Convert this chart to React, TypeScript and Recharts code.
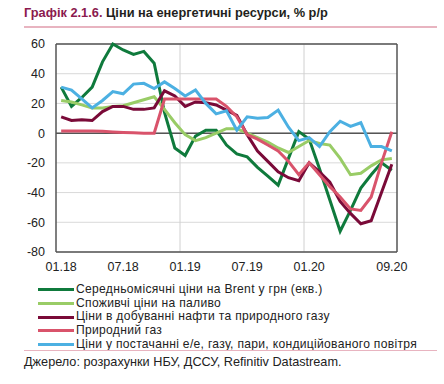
import React from 'react';
import { LineChart, Line, XAxis, YAxis, CartesianGrid, ReferenceLine } from 'recharts';

const months = ["01.18","02.18","03.18","04.18","05.18","06.18","07.18","08.18","09.18","10.18","11.18","12.18","01.19","02.19","03.19","04.19","05.19","06.19","07.19","08.19","09.19","10.19","11.19","12.19","01.20","02.20","03.20","04.20","05.20","06.20","07.20","08.20","09.20"];
const xTickLabels = ["01.18", "07.18", "01.19", "07.19", "01.20", "09.20"];
const yTicks = [-80, -60, -40, -20, 0, 20, 40, 60];

const brent = [31,18,24,31,48,60,56,53,55,47,14,-10,-15,-2,2,2,-8,-14,-16,-23,-29,-35,-17,1,-4,-24,-45,-66,-52,-37,-28,-20,-25];
const fuel = [22,21,19,17,17,18,18.5,20.5,22.5,24.5,16,7,-1,-5,-3,0,3,3,0,-3,-6,-10,-13,-9,-5,-7,-8,-17,-28,-27,-22,-18,-17];
const extraction = [11,8.5,9,8.5,14.5,18,18,16,16,17,28.5,25,18,21,20.5,19,15.5,12,-1,-12,-19,-26,-30,-32,-20,-26,-33,-46,-54,-61,-59,-40,-21];
const gas = [1.5,1.5,1.5,1.5,1.2,0.8,0.5,0.3,0,0,23,23,23,23,23,23,18,11,-1,-4,-8,-12,-19,-28,-20,-28,-36,-43,-51,-52,-43,-20,1];
const utilities = [31,29,23,17,22,28,26.5,33,33.5,30,34.5,30,25,29,20,13,15,2,11,10,10.5,15.5,4,-5,-3,-9,1,8,4.5,7,-9,-9,-12];

const seriesNames = [
  "Середньомісячні ціни на Brent у грн (екв.)",
  "Споживчі ціни на паливо",
  "Ціни в добуванні нафти та природного газу",
  "Природний газ",
  "Ціни у постачанні е/е, газу, пари, кондиційованого повітря",
];
const seriesKeys = ["brent", "fuel", "extraction", "gas", "utilities"];
const seriesColors = ["#0f7a3c", "#99cc66", "#7a0a38", "#d9536b", "#4cb0e2"];
const seriesValues = [brent, fuel, extraction, gas, utilities];

const data = months.map((m, i) => {
  const row: Record<string, number | string> = { i, month: m };
  seriesKeys.forEach((k, s) => { row[k] = seriesValues[s][i]; });
  return row;
});

const xTicks = xTickLabels.map((l) => months.indexOf(l));
const font = "'Liberation Sans', Arial, sans-serif";

export default function App() {
  return (
    <div style={{ position: 'absolute', left: 0, top: 0, width: 444, height: 384, background: '#fff', fontFamily: font, color: '#222' }}>
      <div style={{ position: 'absolute', left: 24, top: 5, fontSize: 12.8, fontWeight: 'bold', whiteSpace: 'nowrap', color: '#231f20' }}>
        <span style={{ color: '#8b1a4e' }}>Графік 2.1.6.</span> Ціни на енергетичні ресурси, % р/р
      </div>
      <div style={{ position: 'absolute', left: 24, top: 26, width: 413, height: 2, background: '#e8b4c0' }} />
      <div style={{ position: 'absolute', left: 0, top: 0 }}>
        <LineChart width={444} height={290} data={data} margin={{ top: 44, right: 47, bottom: 8, left: 16 }}>
          <CartesianGrid vertical={false} stroke="#d9d9d9" />
          <XAxis
            dataKey="i"
            type="number"
            domain={[-0.5, 32.5]}
            ticks={xTicks}
            tickFormatter={(v: number) => months[v]}
            interval={0}
            height={30}
            tickLine={false}
            tickMargin={4}
            axisLine={{ stroke: '#555', strokeWidth: 1.5 }}
            tick={{ fontSize: 12.5, fill: '#222', fontFamily: font }}
          />
          <YAxis
            type="number"
            domain={[-80, 60]}
            ticks={yTicks}
            interval={0}
            width={40}
            tickLine={false}
            tickMargin={5}
            axisLine={{ stroke: '#555', strokeWidth: 1.5 }}
            tick={{ fontSize: 12.5, fill: '#222', fontFamily: font }}
          />
          <ReferenceLine x={11.5} stroke="#d0d0d0" />
          <ReferenceLine x={23.5} stroke="#d0d0d0" />
          <ReferenceLine y={60} stroke="#555" strokeWidth={1.5} />
          <ReferenceLine x={32.5} stroke="#555" strokeWidth={1.5} />
          <ReferenceLine y={0} stroke="#555" strokeWidth={1.5} />
          {seriesKeys.map((k, s) => (
            <Line key={k} type="linear" dataKey={k} stroke={seriesColors[s]} strokeWidth={3} dot={false} isAnimationActive={false} />
          ))}
        </LineChart>
      </div>
      {seriesNames.map((n, s) => (
        <div key={n} style={{ position: 'absolute', left: 38, top: 283.2 + s * 13.6, height: 13.6, lineHeight: '13.6px', display: 'flex', alignItems: 'center', whiteSpace: 'nowrap', fontSize: 12.1, letterSpacing: 0.3 }}>
          <span style={{ display: 'inline-block', width: 36, height: 3, background: seriesColors[s], marginRight: 2 }} />
          <span>{n}</span>
        </div>
      ))}
      <div style={{ position: 'absolute', left: 24, top: 349.5, width: 413, height: 1.5, background: '#e8b4c0' }} />
      <div style={{ position: 'absolute', left: 24, top: 355, fontSize: 12.7, lineHeight: '14px', whiteSpace: 'nowrap' }}>
        Джерело: розрахунки НБУ, ДССУ, Refinitiv Datastream.
      </div>
    </div>
  );
}
